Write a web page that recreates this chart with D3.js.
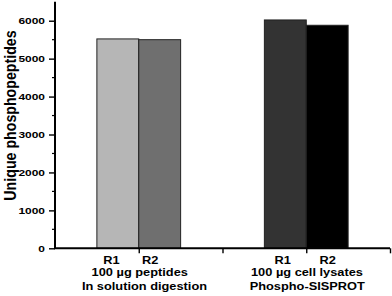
<!DOCTYPE html>
<html><head><meta charset="utf-8">
<script src="https://cdn.jsdelivr.net/npm/d3@7/dist/d3.min.js"></script>
<style>
html,body{margin:0;padding:0;background:#fff;}
svg{display:block;}
text{font-family:"Liberation Sans",Arial,sans-serif;font-weight:bold;fill:#000;}
</style></head>
<body>
<svg id="chart" width="392" height="296"></svg>
<script>
const replicates = ["R1", "R2"];
const groupPositions = [1, 3];
const groupLine1 = ["100 µg peptides", "100 µg cell lysates"];
const groupLine2 = ["In solution digestion", "Phospho-SISPROT"];
const valuesInSolution = [5520, 5500];
const valuesSISPROT = [6020, 5880];
const barColors = ["#b6b6b6", "#6f6f6f", "#333333", "#000000"];
const yTickValues = [0, 1000, 2000, 3000, 4000, 5000, 6000];
const yMinorTicks = [500, 1500, 2500, 3500, 4500, 5500];
const xTickValues = [1, 2, 3, 4];
const yLabel = "Unique phosphopeptides";

const SX = 1.22; // horizontal stretch of text in reference
const svg = d3.select("#chart");
const x = d3.scaleLinear().domain([0, 4]).range([55, 390]);
const y = d3.scaleLinear().domain([0, 6500]).range([248.3, 1.75]);

const bars = [];
[valuesInSolution, valuesSISPROT].forEach((vals, gi) => {
  vals.forEach((v, ri) => {
    bars.push({g: groupPositions[gi], r: ri, v: v, c: barColors[gi * 2 + ri]});
  });
});

svg.selectAll("rect.bar").data(bars).join("rect")
  .attr("class", "bar")
  .attr("x", d => x(d.g - 0.5 + d.r * 0.5))
  .attr("width", d => x(d.g + d.r * 0.5) - x(d.g - 0.5 + d.r * 0.5))
  .attr("y", d => y(d.v))
  .attr("height", d => y(0) - y(d.v))
  .attr("fill", d => d.c)
  .attr("stroke", "#222")
  .attr("stroke-width", 1);

// Y axis
const yAxis = svg.append("g").attr("transform", `translate(${x(0)},0)`)
  .call(d3.axisLeft(y).tickValues(yTickValues).tickSize(6).tickFormat(d3.format("d")).tickPadding(3));
yAxis.select(".domain").attr("stroke", "#000").attr("stroke-width", 2).attr("d", `M0,${y(0)}V${y(6500)}`);
yAxis.selectAll(".tick line").attr("stroke", "#000").attr("stroke-width", 1.4);
yAxis.selectAll(".tick text").attr("font-size", 9.8)
  .each(function() {
    const t = d3.select(this);
    t.attr("transform", `scale(${SX},1)`).attr("x", -10 / SX);
  });
svg.append("g").selectAll("line").data(yMinorTicks).join("line")
  .attr("x1", x(0) - 3).attr("x2", x(0)).attr("y1", d => y(d)).attr("y2", d => y(d))
  .attr("stroke", "#000").attr("stroke-width", 1.2);

// X axis
const xAxis = svg.append("g").attr("transform", `translate(0,${y(0)})`)
  .call(d3.axisBottom(x).tickValues(xTickValues).tickSize(5).tickFormat(""));
xAxis.select(".domain").attr("stroke", "#000").attr("stroke-width", 2).attr("d", `M${x(0) - 1},0H${x(4)}`);
xAxis.selectAll(".tick line").attr("stroke", "#000").attr("stroke-width", 1.4);

function stretchedText(px, py, str, size, anchor) {
  svg.append("text")
    .attr("transform", `translate(${px},${py}) scale(${SX},1)`)
    .attr("text-anchor", anchor || "middle")
    .attr("font-size", size)
    .text(str);
}

const rOffsets = [[-27.3, 11.5], [-23.5, 21.5]];
const l1Offsets = [1, 0.7];
const l2Offsets = [5.7, 1];
groupPositions.forEach((g, gi) => {
  replicates.forEach((r, ri) => {
    stretchedText(x(g) + rOffsets[gi][ri], 264, r, 10.5);
  });
  stretchedText(x(g) + l1Offsets[gi], 275.6, groupLine1[gi], 10.5);
  stretchedText(x(g) + l2Offsets[gi], 289.6, groupLine2[gi], 10.5);
});

// Y label
svg.append("text")
  .attr("transform", `translate(16,${(23 + 208) / 2}) scale(1.22,1) rotate(-90)`)
  .attr("text-anchor", "middle")
  .attr("font-size", 14.2)
  .text(yLabel);
</script>
</body></html>
